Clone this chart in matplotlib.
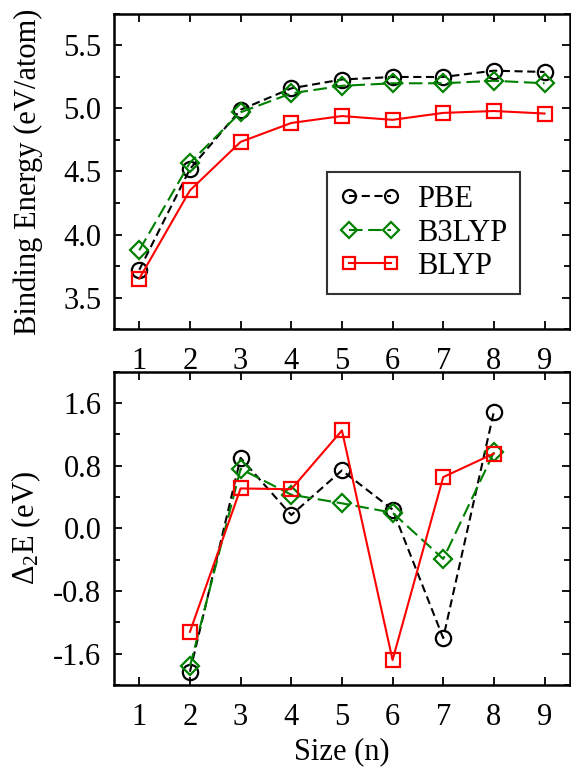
import matplotlib
matplotlib.use('Agg')
import matplotlib.pyplot as plt
from matplotlib.ticker import MultipleLocator

plt.rcParams['font.family'] = ['Liberation Serif', 'DejaVu Serif']
plt.rcParams['mathtext.fontset'] = 'custom'
plt.rcParams['mathtext.rm'] = 'Liberation Serif'
plt.rcParams['mathtext.it'] = 'Liberation Serif'
plt.rcParams['font.size'] = 22
plt.rcParams['axes.unicode_minus'] = False

# 团簇尺寸
size = [1, 2, 3, 4, 5, 6, 7, 8, 9]
size_d2 = [2, 3, 4, 5, 6, 7, 8]

# 平均结合能 (eV/atom)
be_pbe = [3.72, 4.52, 4.99, 5.16, 5.23, 5.25, 5.25, 5.30, 5.29]
be_b3lyp = [3.875, 4.57, 4.97, 5.12, 5.18, 5.20, 5.20, 5.22, 5.20]
be_blyp = [3.65, 4.35, 4.735, 4.885, 4.94, 4.91, 4.965, 4.98, 4.96]

# 二阶能量差 (eV)
d2_pbe = [-1.83, 0.90, 0.17, 0.74, 0.24, -1.40, 1.49]
d2_b3lyp = [-1.76, 0.76, 0.43, 0.32, 0.20, -0.39, 0.97]
d2_blyp = [-1.32, 0.51, 0.50, 1.25, -1.68, 0.655, 0.955]

fig = plt.figure(figsize=(5.71, 7.68), dpi=100)
ax1 = fig.add_axes([0.1996, 0.5716, 0.7984, 0.4102])
ax2 = fig.add_axes([0.1996, 0.108, 0.7984, 0.408])

styles = [
    dict(color='black', marker='o', ls=(0, (3.9, 2.2))),
    dict(color='#008000', marker='D', ls=(0, (6.5, 2.7))),
    dict(color='red', marker='s', ls='-'),
]
ms = [11, 9, 10]

for ax, x, series in [(ax1, size, [be_pbe, be_b3lyp, be_blyp]),
                      (ax2, size_d2, [d2_pbe, d2_b3lyp, d2_blyp])]:
    for y, st, m, lab in zip(series, styles, ms, ['PBE', 'B3LYP', 'BLYP']):
        ax.plot(x, y, color=st['color'], marker=st['marker'], linestyle=st['ls'],
                markersize=m, markerfacecolor='none', markeredgewidth=1.6,
                linewidth=1.5, label=lab)
    ax.set_xlim(0.5, 9.5)
    ax.set_xticks(size)
    ax.tick_params(which='both', direction='in', top=True, right=True, width=1.3)
    ax.tick_params(which='major', length=5.5)
    ax.tick_params(which='minor', length=4)
    ax.tick_params(axis='x', pad=13)
    ax.tick_params(axis='y', pad=9)
    for sp in ax.spines.values():
        sp.set_linewidth(1.8)

ax1.set_ylim(3.25, 5.75)
ax1.yaxis.set_major_locator(MultipleLocator(0.5))
ax1.yaxis.set_minor_locator(MultipleLocator(0.25))
ax1.yaxis.set_major_formatter('{x:.1f}')
ax1.set_ylabel('Binding Energy (eV/atom)')
ax1.yaxis.set_label_coords(-0.156, 0.5)

ax2.set_ylim(-2.0, 2.0)
ax2.yaxis.set_major_locator(MultipleLocator(0.8))
ax2.yaxis.set_minor_locator(MultipleLocator(0.4))
ax2.yaxis.set_major_formatter('{x:.1f}')
ax2.set_ylabel(r'$\Delta_2$E (eV)')
ax2.yaxis.set_label_coords(-0.156, 0.5)
ax2.set_xlabel('Size (n)')
ax2.xaxis.set_label_coords(0.5, -0.165)

leg = ax1.legend(loc='upper left', bbox_to_anchor=(0.467, 0.498), fontsize=22,
                 frameon=True, fancybox=False, numpoints=2, markerscale=0.85,
                 handlelength=1.97, borderpad=0.42, labelspacing=0.15,
                 handletextpad=0.55, borderaxespad=0)
leg.get_frame().set_edgecolor('black')
leg.get_frame().set_linewidth(1.5)

fig.savefig('out.png', dpi=100)
